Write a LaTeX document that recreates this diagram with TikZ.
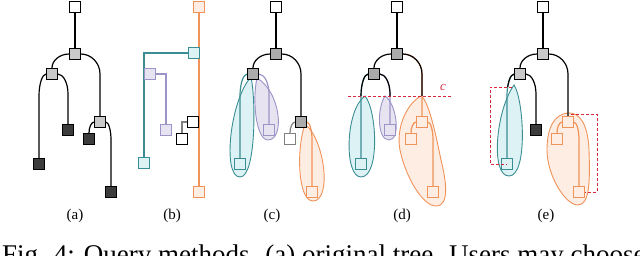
\documentclass[tikz,border=0pt]{standalone}
\usepackage{fontspec}
\setmainfont{Liberation Serif}
\usetikzlibrary{calc}
\definecolor{tealc}{HTML}{3A8E93}
\definecolor{tealf}{HTML}{DDF2F5}
\definecolor{purc}{HTML}{9C93C6}
\definecolor{purf}{HTML}{E7E3F1}
\definecolor{orc}{HTML}{F0935A}
\definecolor{orf}{HTML}{FDEDE2}
\definecolor{redc}{HTML}{D8283F}
\definecolor{lgray}{HTML}{C9C9C9}
\definecolor{mgray}{HTML}{ABABAB}
\definecolor{dgray}{HTML}{3C3C3C}
\pgfdeclarelayer{blobs}\pgfdeclarelayer{edges}
\pgfsetlayers{blobs,edges,main}
\newcommand\tedge[4]{\draw[#1] (#2) .. controls ($(#2)!0.55!(#3.north |- #2)$) and ($(#3.north |- #2)+(0,0.45*#4)$) .. ($(#3.north |- #2)+(0,#4)$) -- (#3.north);}
\tikzset{
 sq/.style={draw, minimum size=10.5pt, inner sep=0pt, line width=0.9pt, fill=white},
 sqw/.style={sq},
 sql/.style={sq, fill=lgray},
 sqm/.style={sq, fill=mgray},
 sqd/.style={sq, fill=dgray},
 sqt/.style={sq, draw=tealc, fill=tealf},
 sqp/.style={sq, draw=purc, fill=purf},
 sqo/.style={sq, draw=orc, fill=orf},
 sqg/.style={sq, draw=gray},
 ed/.style={line width=1.2pt, black},
 edt/.style={line width=1.2pt, tealc},
 edp/.style={line width=1.2pt, purc},
 edo/.style={line width=1.2pt, orc},
 edg/.style={line width=1.2pt, gray},
 blobt/.style={draw=tealc, fill=tealf, line width=0.9pt},
 blobp/.style={draw=purc, fill=purf, line width=0.9pt},
 blobo/.style={draw=orc, fill=orf, line width=0.9pt},
 cutline/.style={redc, line width=0.9pt, dash pattern=on 3pt off 2pt},
 lab/.style={font=\fontsize{15}{15}\selectfont, inner sep=0pt},
 redlab/.style={text=redc, inner sep=0pt}
}
\begin{document}
\begin{tikzpicture}[x=1pt,y=-1pt]
\path[use as bounding box] (0,0) rectangle (640,256);

% ---------------- (a)
\node[sqw] (a0) at (75,7) {};
\node[sql] (a1) at (75,54) {};
\node[sql] (a2) at (52,74) {};
\node[sql] (a3) at (100,122) {};
\node[sqd] (a4) at (39,164) {};
\node[sqd] (a5) at (68,130) {};
\node[sqd] (a6) at (89,139) {};
\node[sqd] (a7) at (111,192) {};
\begin{pgfonlayer}{edges}
\draw[ed] (a0) -- (a1);
\tedge{ed}{a1.west}{a2}{14}
\tedge{ed}{a1.east}{a3}{20}
\tedge{ed}{a2.west}{a4}{22}
\tedge{ed}{a2.east}{a5}{20}
\tedge{ed}{a3.west}{a6}{11}
\tedge{ed}{a3.east}{a7}{18}
\end{pgfonlayer}
\node[lab] (la) at (75,216) {(a)};

% ---------------- (b)
\node[sqo] (bo1) at (199,7) {};
\node[sqo] (bo2) at (199,192) {};
\node[sqt] (bt1) at (194,53) {};
\node[sqt] (bt2) at (144,163) {};
\node[sqp] (bp1) at (150,74) {};
\node[sqp] (bp2) at (166,130) {};
\node[sqw] (bk1) at (193,122) {};
\node[sqw] (bk2) at (182,139) {};
\begin{pgfonlayer}{edges}
\draw[edo] (bo1) -- (bo2);
\draw[edt] (bt1.west) -| (bt2.north);
\draw[edp] (bp1.east) -| (bp2.north);
\draw[edg] (bk2.north) |- (bk1.west);
\end{pgfonlayer}
\node[lab] (lb) at (172,216) {(b)};

% ---------------- (c)
\begin{pgfonlayer}{blobs}
\path[blobt] (251,77) .. controls (230,100) and (222,177) .. (240,177) .. controls (256,177) and (256,100) .. (251,77) -- cycle;
\path[blobp] (257,78) .. controls (281,92) and (285,140) .. (268,140) .. controls (256,140) and (252,100) .. (257,78) -- cycle;
\path[blobo] (305,124) .. controls (325,140) and (332,201) .. (313,201) .. controls (298,201) and (296,150) .. (305,124) -- cycle;
\end{pgfonlayer}
\node[sqw] (c0) at (276,7) {};
\node[sqm] (c1) at (276,54) {};
\node[sqm] (c2) at (253,74) {};
\node[sqm] (c3) at (301,122) {};
\node[sqt] (c4) at (240,164) {};
\node[sqp] (c5) at (269,130) {};
\node[sqg] (c6) at (290,139) {};
\node[sqo] (c7) at (312,192) {};
\begin{pgfonlayer}{edges}
\draw[ed] (c0) -- (c1);
\tedge{ed}{c1.west}{c2}{14}
\tedge{ed}{c1.east}{c3}{20}
\tedge{edt}{c2.west}{c4}{22}
\tedge{edp}{c2.east}{c5}{20}
\tedge{edg}{c3.west}{c6}{11}
\tedge{edo}{c3.east}{c7}{18}
\end{pgfonlayer}
\node[lab] (lc) at (272,216) {(c)};

% ---------------- (d)
\begin{pgfonlayer}{blobs}
\path[blobt] (365,96) .. controls (377,110) and (380,177) .. (361,177) .. controls (344,177) and (345,110) .. (365,96) -- cycle;
\path[blobp] (385,96) .. controls (397,104) and (401,140) .. (389,140) .. controls (377,140) and (377,108) .. (385,96) -- cycle;
\path[blobo] (421,96) .. controls (405,105) and (396,130) .. (400,150) .. controls (405,175) and (422,206) .. (436,206) .. controls (450,206) and (446,180) .. (441,160) .. controls (435,130) and (428,100) .. (421,96) -- cycle;
\end{pgfonlayer}
\node[sqw] (d0) at (397,7) {};
\node[sqm] (d1) at (397,54) {};
\node[sqm] (d2) at (374,74) {};
\node[sqo] (d3) at (422,122) {};
\node[sqt] (d4) at (361,164) {};
\node[sqp] (d5) at (390,130) {};
\node[sqo] (d6) at (411,139) {};
\node[sqo] (d7) at (433,192) {};
\begin{pgfonlayer}{edges}
\draw[ed] (d0) -- (d1);
\tedge{ed}{d1.west}{d2}{14}
\tedge{edo}{d1.east}{d3}{20}
\tedge{edt}{d2.west}{d4}{22}
\tedge{edp}{d2.east}{d5}{20}
\tedge{edo}{d3.west}{d6}{11}
\tedge{edo}{d3.east}{d7}{18}
\begin{scope}
\clip (340,0) rectangle (460,96);
\tedge{ed}{d1.east}{d3}{20}
\tedge{ed}{d2.west}{d4}{22}
\tedge{ed}{d2.east}{d5}{20}
\end{scope}
\end{pgfonlayer}
\coordinate (cutl) at (348,96);
\coordinate (cutr) at (452,96);
\draw[cutline] (cutl) -- (cutr);
\node[redlab, font=\fontsize{13}{13}\selectfont\itshape] (clab) at (443,88) {c};
\node[lab] (ld) at (402,216) {(d)};

% ---------------- (e)
\begin{pgfonlayer}{blobs}
\path[blobt] (514,85) .. controls (524,100) and (528,176) .. (509,176) .. controls (490,176) and (496,110) .. (514,85) -- cycle;
\path[blobo] (568,113) .. controls (580,112) and (588,125) .. (589,150) .. controls (590,180) and (590,205) .. (578,205) .. controls (565,205) and (547,175) .. (547,150) .. controls (547,125) and (556,114) .. (568,113) -- cycle;
\end{pgfonlayer}
\node[sqw] (e0) at (543,7) {};
\node[sql] (e1) at (543,54) {};
\node[sql] (e2) at (520,74) {};
\node[sqo] (e3) at (568,122) {};
\node[sqt] (e4) at (507,164) {};
\node[sqd] (e5) at (536,130) {};
\node[sqo] (e6) at (557,139) {};
\node[sqo] (e7) at (579,192) {};
\begin{pgfonlayer}{edges}
\draw[ed] (e0) -- (e1);
\tedge{ed}{e1.west}{e2}{14}
\tedge{ed}{e1.east}{e3}{20}
\tedge{edt}{e2.west}{e4}{22}
\tedge{ed}{e2.east}{e5}{20}
\tedge{edo}{e3.west}{e6}{11}
\tedge{edo}{e3.east}{e7}{18}
\begin{scope}
\clip (480,0) rectangle (540,87);
\tedge{ed}{e2.west}{e4}{22}
\end{scope}
\end{pgfonlayer}
\coordinate (dlt) at (512,87);
\coordinate (dlc) at (490,87);
\draw[cutline] (dlt) -- (dlc) |- (e4.center);
\coordinate (drt) at (571,114);
\coordinate (drc) at (597,114);
\draw[cutline] (drt) -- (drc) |- (e7.east);
\node[redlab, font=\fontsize{14}{14}\selectfont] (dl) at (484,127) {$\mathit{\Delta}$};
\node[redlab, font=\fontsize{14}{14}\selectfont] (dr) at (607,153) {$\mathit{\Delta}$};
\node[lab] (le) at (546,216) {(e)};

% ---------------- caption
\node[anchor=base west, inner sep=0pt, font=\fontsize{27}{27}\selectfont] (cap) at (2,264) {Fig. 4: Query methods. (a) original tree. Users may choose};
\end{tikzpicture}
\end{document}
